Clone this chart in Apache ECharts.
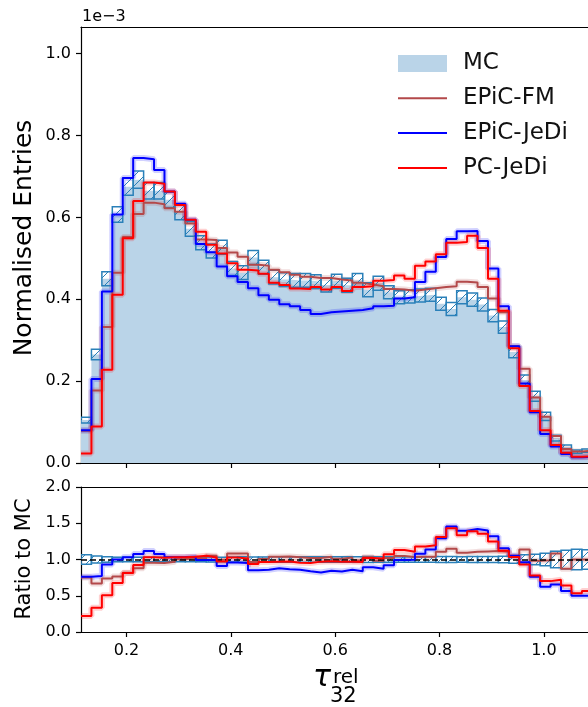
<!DOCTYPE html>
<html><head><meta charset="utf-8">
<script src="https://cdn.jsdelivr.net/npm/echarts@6/dist/echarts.min.js"></script>
<style>html,body{margin:0;padding:0;background:#fff}#c{width:588px;height:707px}</style>
</head><body><div id="c"></div>
<script>
// ---- binning (histogram bin edges) ----
const BIN_START = 0.1129;
const BIN_WIDTH = 0.02;
const X_MIN = 0.1129;
const X_MAX = 1.0846;
const X_TICKS = [0.2, 0.4, 0.6, 0.8, 1.0];
const Y_TICKS = [0.0, 0.2, 0.4, 0.6, 0.8, 1.0];
const R_TICKS = [0.0, 0.5, 1.0, 1.5, 2.0];
const Y_MAX = 1.065;

// ---- series values (units of 1e-3) ----
const MC = [0.105,0.265,0.450,0.607,0.675,0.692,0.665,0.665,0.643,0.612,
            0.572,0.538,0.518,0.527,0.475,0.465,0.502,0.478,0.454,0.448,
            0.446,0.446,0.443,0.435,0.444,0.434,0.446,0.423,0.439,0.417,
            0.405,0.407,0.409,0.411,0.389,0.376,0.405,0.399,0.387,0.360,
            0.332,0.271,0.202,0.163,0.114,0.061,0.039,0.028,0.030];
const MC_ERR = [0.007,0.013,0.017,0.019,0.021,0.021,0.020,0.020,0.019,0.018,
                0.018,0.017,0.017,0.017,0.017,0.017,0.017,0.017,0.017,0.017,
                0.017,0.017,0.017,0.017,0.017,0.017,0.017,0.017,0.017,0.016,
                0.016,0.016,0.016,0.016,0.016,0.016,0.016,0.016,0.016,0.015,
                0.015,0.014,0.013,0.012,0.010,0.007,0.005,0.004,0.004];
const EPIC_FM = [0.079,0.177,0.332,0.465,0.552,0.608,0.636,0.632,0.622,0.614,
                 0.585,0.546,0.545,0.525,0.514,0.504,0.484,0.482,0.472,0.466,
                 0.460,0.455,0.452,0.452,0.448,0.446,0.440,0.436,0.432,0.425,
                 0.424,0.421,0.424,0.427,0.430,0.432,0.443,0.441,0.430,0.402,
                 0.368,0.285,0.230,0.160,0.113,0.066,0.034,0.028,0.030];
const EPIC_JEDI = [0.080,0.205,0.419,0.607,0.696,0.745,0.742,0.716,0.663,0.633,
                   0.594,0.535,0.515,0.480,0.456,0.442,0.427,0.410,0.399,0.388,
                   0.383,0.374,0.364,0.368,0.370,0.372,0.374,0.378,0.383,0.384,
                   0.402,0.405,0.442,0.467,0.503,0.547,0.566,0.567,0.542,0.475,
                   0.383,0.285,0.194,0.124,0.071,0.040,0.022,0.014,0.015];
const PC_JEDI = [0.023,0.089,0.228,0.411,0.549,0.640,0.685,0.682,0.663,0.630,
                 0.594,0.565,0.533,0.512,0.488,0.472,0.470,0.462,0.440,0.435,
                 0.426,0.425,0.430,0.424,0.430,0.420,0.430,0.432,0.445,0.447,
                 0.458,0.450,0.482,0.492,0.510,0.538,0.540,0.555,0.525,0.450,
                 0.372,0.280,0.188,0.127,0.080,0.044,0.025,0.015,0.017];

// ---- styles ----
const FONT = 'DejaVu Sans';
const C_FILL = '#bad4e8';
const C_HATCH = '#2a80b9';
const C_FM = '#b3494a';
const C_JEDI = '#0000ff';
const C_PC = '#ff0000';
const LINE_ICON = 'path://M0,0H49V2H0Z';

const edges = [];
for (let k = 0; k <= MC.length; k++) edges.push(BIN_START + k * BIN_WIDTH);

function stepData(vals) {
  const d = vals.map((v, k) => [edges[k], v]);
  d.push([edges[vals.length], vals[vals.length - 1]]);
  return d;
}
const ratio = (vals) => vals.map((v, k) => v / MC[k]);

const hatch = document.createElement('canvas');
hatch.width = 10; hatch.height = 10;
(function () {
  const g = hatch.getContext('2d');
  g.strokeStyle = C_HATCH; g.lineWidth = 1;
  g.beginPath();
  g.moveTo(0, 10); g.lineTo(10, 0);
  g.moveTo(-5, 5); g.lineTo(5, -5);
  g.moveTo(5, 15); g.lineTo(15, 5);
  g.stroke();
})();

function bandSeries(name, xi, yi, lo, hi) {
  return {
    type: 'custom', name: name, xAxisIndex: xi, yAxisIndex: yi, clip: true, silent: true, z: 3,
    data: lo.map((l, k) => [edges[k], edges[k + 1], l, hi[k]]),
    encode: { x: [0, 1], y: [2, 3] },
    renderItem: function (params, api) {
      const p0 = api.coord([api.value(0), api.value(3)]);
      const p1 = api.coord([api.value(1), api.value(2)]);
      return {
        type: 'rect',
        shape: { x: p0[0], y: p0[1], width: p1[0] - p0[0], height: p1[1] - p0[1] },
        style: { fill: { image: hatch, repeat: 'repeat' }, stroke: C_HATCH, lineWidth: 1.5 }
      };
    }
  };
}

function stepLine(name, xi, yi, vals, color, z, extra) {
  return Object.assign({
    type: 'line', name: name, xAxisIndex: xi, yAxisIndex: yi, step: 'end',
    data: stepData(vals), symbol: 'none', showSymbol: false, clip: true, silent: true,
    lineStyle: { color: color, width: 2 }, itemStyle: { color: color }, z: z
  }, extra || {});
}
function halo(name, xi, yi, vals, color) {
  return {
    type: 'line', name: name, xAxisIndex: xi, yAxisIndex: yi, step: 'end',
    data: stepData(vals), symbol: 'none', showSymbol: false, clip: true, silent: true,
    lineStyle: { color: color, width: 6, opacity: 0.18 }, z: 2
  };
}

const axisCommon = {
  axisLine: { show: true, lineStyle: { color: '#000', width: 1.2 } },
  splitLine: { show: false }
};
const labelStyle = { fontFamily: FONT, fontSize: 16, color: '#000' };

const chart = echarts.init(document.getElementById('c'), null, { renderer: 'canvas' });
chart.setOption({
  animation: false,
  backgroundColor: '#fff',
  grid: [
    { left: 81, right: 0, top: 27, height: 436 },
    { left: 81, right: 0, top: 487, height: 145 }
  ],
  xAxis: [
    Object.assign({ type: 'value', gridIndex: 0, min: X_MIN, max: X_MAX, position: 'bottom',
      axisTick: { show: true, customValues: X_TICKS, length: 5, lineStyle: { color: '#000', width: 1.2 } },
      axisLabel: { show: false } }, axisCommon),
    Object.assign({ type: 'value', gridIndex: 0, min: X_MIN, max: X_MAX, position: 'top',
      axisTick: { show: false }, axisLabel: { show: false } }, axisCommon),
    Object.assign({ type: 'value', gridIndex: 1, min: X_MIN, max: X_MAX, position: 'bottom',
      axisTick: { show: true, customValues: X_TICKS, length: 5, lineStyle: { color: '#000', width: 1.2 } },
      axisLabel: Object.assign({ show: true, customValues: X_TICKS, margin: 11,
        formatter: (v) => v.toFixed(1) }, labelStyle) }, axisCommon),
    Object.assign({ type: 'value', gridIndex: 1, min: X_MIN, max: X_MAX, position: 'top',
      axisTick: { show: false }, axisLabel: { show: false } }, axisCommon)
  ],
  yAxis: [
    Object.assign({ type: 'value', gridIndex: 0, min: 0, max: Y_MAX,
      axisTick: { show: true, customValues: Y_TICKS, length: 5, lineStyle: { color: '#000', width: 1.2 } },
      axisLabel: Object.assign({ show: true, customValues: Y_TICKS, margin: 10,
        formatter: (v) => v.toFixed(1) }, labelStyle) }, axisCommon),
    Object.assign({ type: 'value', gridIndex: 1, min: 0, max: 2,
      axisTick: { show: true, customValues: R_TICKS, length: 5, lineStyle: { color: '#000', width: 1.2 } },
      axisLabel: Object.assign({ show: true, customValues: R_TICKS, margin: 10,
        formatter: (v) => v.toFixed(1) }, labelStyle) }, axisCommon)
  ],
  legend: {
    orient: 'vertical', left: 393, top: 47, itemWidth: 49, itemHeight: 17, itemGap: 11.8,
    selectedMode: false, symbolKeepAspect: true,
    textStyle: { fontFamily: FONT, fontSize: 23, color: '#111', lineHeight: 23, padding: [0, 0, 0, 11] },
    data: [
      { name: 'MC', icon: 'rect', itemStyle: { color: C_FILL } },
      { name: 'EPiC-FM', icon: LINE_ICON, itemStyle: { color: C_FM } },
      { name: 'EPiC-JeDi', icon: LINE_ICON, itemStyle: { color: C_JEDI } },
      { name: 'PC-JeDi', icon: LINE_ICON, itemStyle: { color: C_PC } }
    ]
  },
  graphic: [
    { type: 'text', left: 82, top: 9, style: { text: '1e\u22123', font: '16px "DejaVu Sans"', fill: '#000' } },
    { type: 'text', x: 24, y: 238, rotation: Math.PI / 2,
      style: { text: 'Normalised Entries', font: '25px "DejaVu Sans"', fill: '#000', align: 'center', verticalAlign: 'middle' } },
    { type: 'text', x: 25, y: 559, rotation: Math.PI / 2,
      style: { text: 'Ratio to MC', font: '21px "DejaVu Sans"', fill: '#000', align: 'center', verticalAlign: 'middle' } },
    { type: 'text', x: 313, y: 693, style: { text: '\u03c4', font: 'italic 30px "DejaVu Sans"', fill: '#000', align: 'left', verticalAlign: 'bottom' } },
    { type: 'text', x: 333, y: 688, style: { text: 'rel', font: '20px "DejaVu Sans"', fill: '#000', align: 'left', verticalAlign: 'bottom' } },
    { type: 'text', x: 330, y: 707, style: { text: '32', font: '21px "DejaVu Sans"', fill: '#000', align: 'left', verticalAlign: 'bottom' } }
  ],
  series: [
    // main panel
    { type: 'line', name: 'MC', xAxisIndex: 0, yAxisIndex: 0, step: 'end', data: stepData(MC),
      symbol: 'none', showSymbol: false, clip: true, silent: true, z: 1,
      lineStyle: { width: 0, color: C_FILL }, itemStyle: { color: C_FILL },
      areaStyle: { color: C_FILL, opacity: 1 } },
    bandSeries('MC unc', 0, 0, MC.map((v, k) => v - MC_ERR[k]), MC.map((v, k) => v + MC_ERR[k])),
    halo('fm halo', 0, 0, EPIC_FM, C_FM),
    halo('jedi halo', 0, 0, EPIC_JEDI, C_JEDI),
    halo('pc halo', 0, 0, PC_JEDI, C_PC),
    stepLine('EPiC-FM', 0, 0, EPIC_FM, C_FM, 4),
    stepLine('EPiC-JeDi', 0, 0, EPIC_JEDI, C_JEDI, 5),
    stepLine('PC-JeDi', 0, 0, PC_JEDI, C_PC, 6),
    // ratio panel
    bandSeries('MC unc ratio', 2, 1, MC.map((v, k) => 1 - MC_ERR[k] / v), MC.map((v, k) => 1 + MC_ERR[k] / v)),
    halo('fm halo r', 2, 1, ratio(EPIC_FM), C_FM),
    halo('jedi halo r', 2, 1, ratio(EPIC_JEDI), C_JEDI),
    halo('pc halo r', 2, 1, ratio(PC_JEDI), C_PC),
    stepLine('EPiC-FM', 2, 1, ratio(EPIC_FM), C_FM, 4, {
      markLine: { silent: true, symbol: 'none', label: { show: false }, animation: false,
        lineStyle: { color: '#000', type: [6, 3], width: 1.5 }, data: [{ yAxis: 1 }] } }),
    stepLine('EPiC-JeDi', 2, 1, ratio(EPIC_JEDI), C_JEDI, 5),
    stepLine('PC-JeDi', 2, 1, ratio(PC_JEDI), C_PC, 6)
  ]
});
</script>
</body></html>
